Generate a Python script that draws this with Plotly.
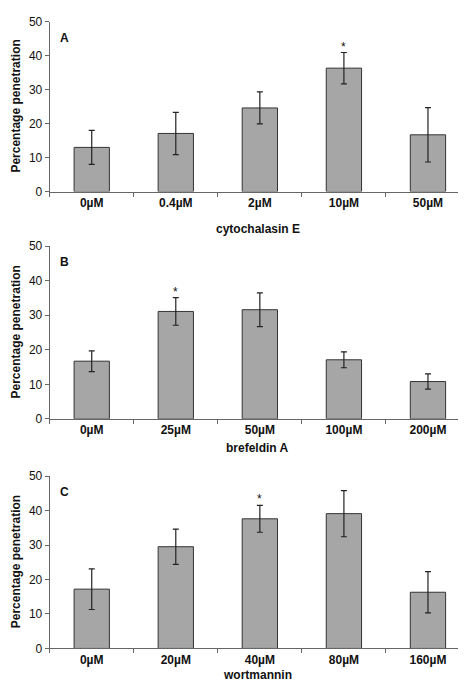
import plotly.graph_objects as go

# Data
cats_a = ["0µM", "0.4µM", "2µM", "10µM", "50µM"]
vals_a = [13.0, 17.1, 24.6, 36.3, 16.7]
err_a = [5.0, 6.2, 4.7, 4.6, 8.0]

cats_b = ["0µM", "25µM", "50µM", "100µM", "200µM"]
vals_b = [16.7, 31.1, 31.6, 17.1, 10.8]
err_b = [3.0, 4.0, 4.9, 2.3, 2.2]

cats_c = ["0µM", "20µM", "40µM", "80µM", "160µM"]
vals_c = [17.2, 29.5, 37.6, 39.1, 16.3]
err_c = [5.9, 5.1, 3.9, 6.7, 6.0]

panels = [
    ("A", cats_a, vals_a, err_a, "cytochalasin E", "10µM"),
    ("B", cats_b, vals_b, err_b, "brefeldin A", "25µM"),
    ("C", cats_c, vals_c, err_c, "wortmannin", "40µM"),
]

W, H = 466, 683
FONT = "Liberation Sans, Arial, sans-serif"

# pixel geometry (top, bottom) of each plot area
rows_px = [(6.7, 180.3), (236.0, 412.3), (470.7, 646.7)]
title_px = [218, 442, 674]
x0_px, x1_px = 41.7, 462.0

fig = go.Figure()
annotations = []
for i, ((letter, cats, vals, errs, xtitle, star), (top, bot), ty) in enumerate(zip(panels, rows_px, title_px)):
    n = "" if i == 0 else str(i + 1)
    xa, ya = "x" + n, "y" + n
    fig.add_trace(go.Bar(
        x=cats, y=vals, xaxis=xa, yaxis=ya,
        marker=dict(color="#a6a6a6", line=dict(color="#333333", width=1)),
        error_y=dict(type="data", array=errs, visible=True, color="#222222", thickness=1.2, width=3),
        showlegend=False, hoverinfo="skip",
    ))
    xkey = "xaxis" + n
    ykey = "yaxis" + n
    dom_y = [1 - bot / H, 1 - top / H]
    fig.update_layout(**{
        xkey: dict(domain=[x0_px / W, x1_px / W], anchor=ya, type="category",
                   showline=True, linecolor="#666666", linewidth=1,
                   ticks="outside", tickson="boundaries", ticklen=4, tickcolor="#666666",
                   tickfont=dict(family=FONT, size=12, color="#111111", weight="bold"),
                   showgrid=False, zeroline=False, fixedrange=True),
        ykey: dict(domain=dom_y, anchor=xa, range=[0, 50], tickvals=[0, 10, 20, 30, 40, 50],
                   showline=True, linecolor="#666666", linewidth=1,
                   ticks="outside", ticklen=4, tickcolor="#666666",
                   tickfont=dict(family=FONT, size=12, color="#111111"),
                   showgrid=False, zeroline=False, fixedrange=True),
    })
    # y axis title
    annotations.append(dict(text="<b>Percentage penetration</b>", xref="paper", yref="paper",
                            x=8 / W, y=1 - (top + bot) / 2 / H, textangle=-90, showarrow=False,
                            xanchor="center", yanchor="middle",
                            font=dict(family=FONT, size=12, color="#111111")))
    # x axis title
    annotations.append(dict(text="<b>" + xtitle + "</b>", xref="paper", yref="paper",
                            x=250 / W, y=1 - ty / H, showarrow=False,
                            xanchor="center", yanchor="middle",
                            font=dict(family=FONT, size=12, color="#111111")))
    # panel letter
    annotations.append(dict(text="<b>" + letter + "</b>", xref="paper", yref="paper",
                            x=56 / W, y=1 - (top + 16.5) / H, showarrow=False,
                            xanchor="center", yanchor="middle",
                            font=dict(family=FONT, size=12, color="#111111")))
    # significance asterisk
    k = cats.index(star)
    annotations.append(dict(text="*", xref=xa, yref=ya, x=star, y=vals[k] + errs[k],
                            showarrow=False, yanchor="bottom", yshift=-3,
                            font=dict(family=FONT, size=12, color="#111111")))

fig.update_layout(
    width=W, height=H, margin=dict(l=0, r=0, t=0, b=0),
    paper_bgcolor="white", plot_bgcolor="white",
    bargap=0.58, annotations=annotations,
    font=dict(family=FONT),
)

fig.write_html("out.html")
